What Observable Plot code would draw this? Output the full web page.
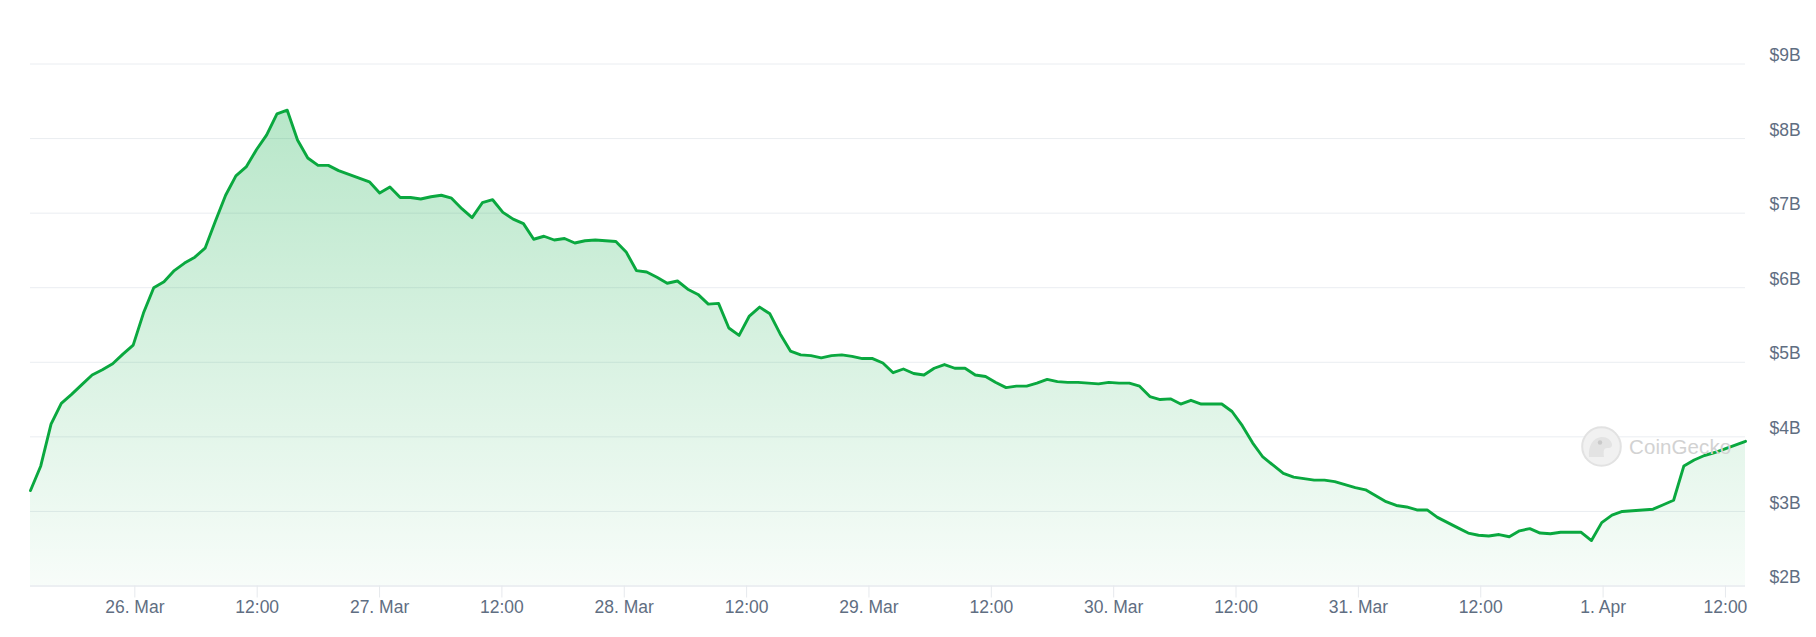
<!DOCTYPE html>
<html>
<head>
<meta charset="utf-8">
<script src="https://cdn.jsdelivr.net/npm/d3@7"></script>
<script src="https://cdn.jsdelivr.net/npm/@observablehq/plot@0.6"></script>
<style>
  html, body { margin: 0; padding: 0; background: #ffffff; }
  #wrap { position: relative; width: 1816px; height: 637px; overflow: hidden; }
  #wm { position: absolute; left: 1581px; top: 426px; display: flex; align-items: center; pointer-events: none; }
  #wm span { font-family: "Liberation Sans", Arial, sans-serif; font-size: 20.5px; color: #d2d2d2; margin-left: 7px; letter-spacing: 0.1px; }
</style>
</head>
<body>
<div id="wrap">
  <div id="chart"></div>
  <div id="wm">
    <svg width="41" height="41" viewBox="0 0 41 41">
      <circle cx="20.5" cy="20.5" r="19.3" fill="#f1f1f1" stroke="#e2e2e2" stroke-width="2"/>
      <path d="M8 31 C7 20 12 12 20 11 C26 10.5 30 14 31 18 C31.5 21 29 22.5 26 22 C23 22 22 25 23 31 Z" fill="#e3e3e3"/>
      <circle cx="19" cy="16.5" r="2.2" fill="#c9c9c9"/>
    </svg>
    <span>CoinGecko</span>
  </div>
</div>
<script>
// Market-cap style series, values in billions of USD (hourly points, 25 Mar – 1 Apr)
const startTime = Date.UTC(2025, 2, 25, 13, 46);
const endTime = Date.UTC(2025, 3, 1, 13, 58);

const values = [
  3.28, 3.61, 4.17, 4.45, 4.57, 4.70, 4.83, 4.90, 4.98, 5.11,
  5.23, 5.66, 6.00, 6.08, 6.23, 6.33, 6.41, 6.53, 6.89, 7.24,
  7.50, 7.62, 7.85, 8.05, 8.33, 8.38, 7.98, 7.74, 7.64, 7.64,
  7.57, 7.52, 7.47, 7.42, 7.27, 7.35, 7.21, 7.21, 7.19, 7.22,
  7.24, 7.20, 7.06, 6.94, 7.14, 7.18, 7.01, 6.92, 6.86, 6.65,
  6.69, 6.64, 6.66, 6.60, 6.63, 6.64, 6.63, 6.62, 6.48, 6.23,
  6.21, 6.14, 6.06, 6.09, 5.98, 5.91, 5.78, 5.79, 5.46, 5.36,
  5.62, 5.74, 5.65, 5.38, 5.15, 5.10, 5.09, 5.06, 5.09, 5.10,
  5.08, 5.05, 5.05, 4.99, 4.86, 4.91, 4.85, 4.83, 4.92, 4.97,
  4.92, 4.92, 4.83, 4.81, 4.73, 4.66, 4.68, 4.68, 4.72, 4.77,
  4.74, 4.73, 4.73, 4.72, 4.71, 4.73, 4.72, 4.72, 4.68, 4.54,
  4.50, 4.51, 4.44, 4.49, 4.44, 4.44, 4.44, 4.34, 4.15, 3.92,
  3.73, 3.62, 3.51, 3.46, 3.44, 3.42, 3.42, 3.40, 3.36, 3.32,
  3.29, 3.21, 3.13, 3.08, 3.06, 3.02, 3.02, 2.92, 2.85, 2.78,
  2.71, 2.68, 2.67, 2.69, 2.66, 2.74, 2.77, 2.71, 2.70, 2.72,
  2.72, 2.72, 2.61, 2.85, 2.95, 3.00, 3.01, 3.02, 3.03, 3.09,
  3.15, 3.61, 3.69, 3.75, 3.79, 3.84, 3.89, 3.94
];

const yTicks = [2, 3, 4, 5, 6, 7, 8, 9];
const xTickDates = [
  "2025-03-26T00:00Z", "2025-03-26T12:00Z", "2025-03-27T00:00Z", "2025-03-27T12:00Z",
  "2025-03-28T00:00Z", "2025-03-28T12:00Z", "2025-03-29T00:00Z", "2025-03-29T12:00Z",
  "2025-03-30T00:00Z", "2025-03-30T12:00Z", "2025-03-31T00:00Z", "2025-03-31T12:00Z",
  "2025-04-01T00:00Z", "2025-04-01T12:00Z"
];

const step = (endTime - startTime) / (values.length - 1);
const data = values.map((v, i) => ({ date: new Date(startTime + i * step), value: v }));
const xTicks = xTickDates.map(s => new Date(s));

const fmtDay = d3.utcFormat("%-d. %b");
const fmtTime = d3.utcFormat("%H:%M");
const xFormat = d => (d.getUTCHours() === 0 && d.getUTCMinutes() === 0) ? fmtDay(d) : fmtTime(d);

function gradientDefs() {
  const ns = "http://www.w3.org/2000/svg";
  const defs = document.createElementNS(ns, "defs");
  const grad = document.createElementNS(ns, "linearGradient");
  grad.setAttribute("id", "cgFill");
  grad.setAttribute("x1", "0"); grad.setAttribute("y1", "0");
  grad.setAttribute("x2", "0"); grad.setAttribute("y2", "1");
  [["0", 0.28], ["1", 0.03]].forEach(([off, op]) => {
    const s = document.createElementNS(ns, "stop");
    s.setAttribute("offset", off);
    s.setAttribute("stop-color", "#00a83e");
    s.setAttribute("stop-opacity", op);
    grad.appendChild(s);
  });
  defs.appendChild(grad);
  return defs;
}

const chart = Plot.plot({
  width: 1816,
  height: 637,
  marginLeft: 30,
  marginRight: 71,
  marginTop: 63.5,
  marginBottom: 51.5,
  style: {
    fontFamily: "'Liberation Sans', Arial, sans-serif",
    fontSize: "17.5px",
    background: "#ffffff",
    overflow: "visible"
  },
  x: { type: "utc", domain: [new Date(startTime), new Date(endTime)], label: null },
  y: { domain: [2, 9], label: null },
  marks: [
    gradientDefs,
    Plot.gridY(yTicks, { stroke: "#eaedf1", strokeOpacity: 1, strokeWidth: 1 }),
    Plot.areaY(data, { x: "date", y1: 2, y2: "value", fill: "url(#cgFill)" }),
    Plot.ruleY([2], { stroke: "#eceff2", strokeWidth: 2 }),
    Plot.lineY(data, { x: "date", y: "value", stroke: "#0aa83f", strokeWidth: 2.9, strokeLinejoin: "round" }),
    Plot.axisX({
      ticks: xTicks, tickFormat: xFormat, tickSize: 12, tickPadding: 3,
      stroke: "#e6e9ed", strokeOpacity: 1, fill: "#5f6e82", label: null
    }),
    Plot.axisY({
      anchor: "right", ticks: yTicks, tickFormat: d => `$${d}B`, tickSize: 0, tickPadding: 24,
      textAnchor: "start", dy: -8.5, fill: "#5f6e82", label: null
    })
  ]
});

document.getElementById("chart").appendChild(chart);
</script>
</body>
</html>
